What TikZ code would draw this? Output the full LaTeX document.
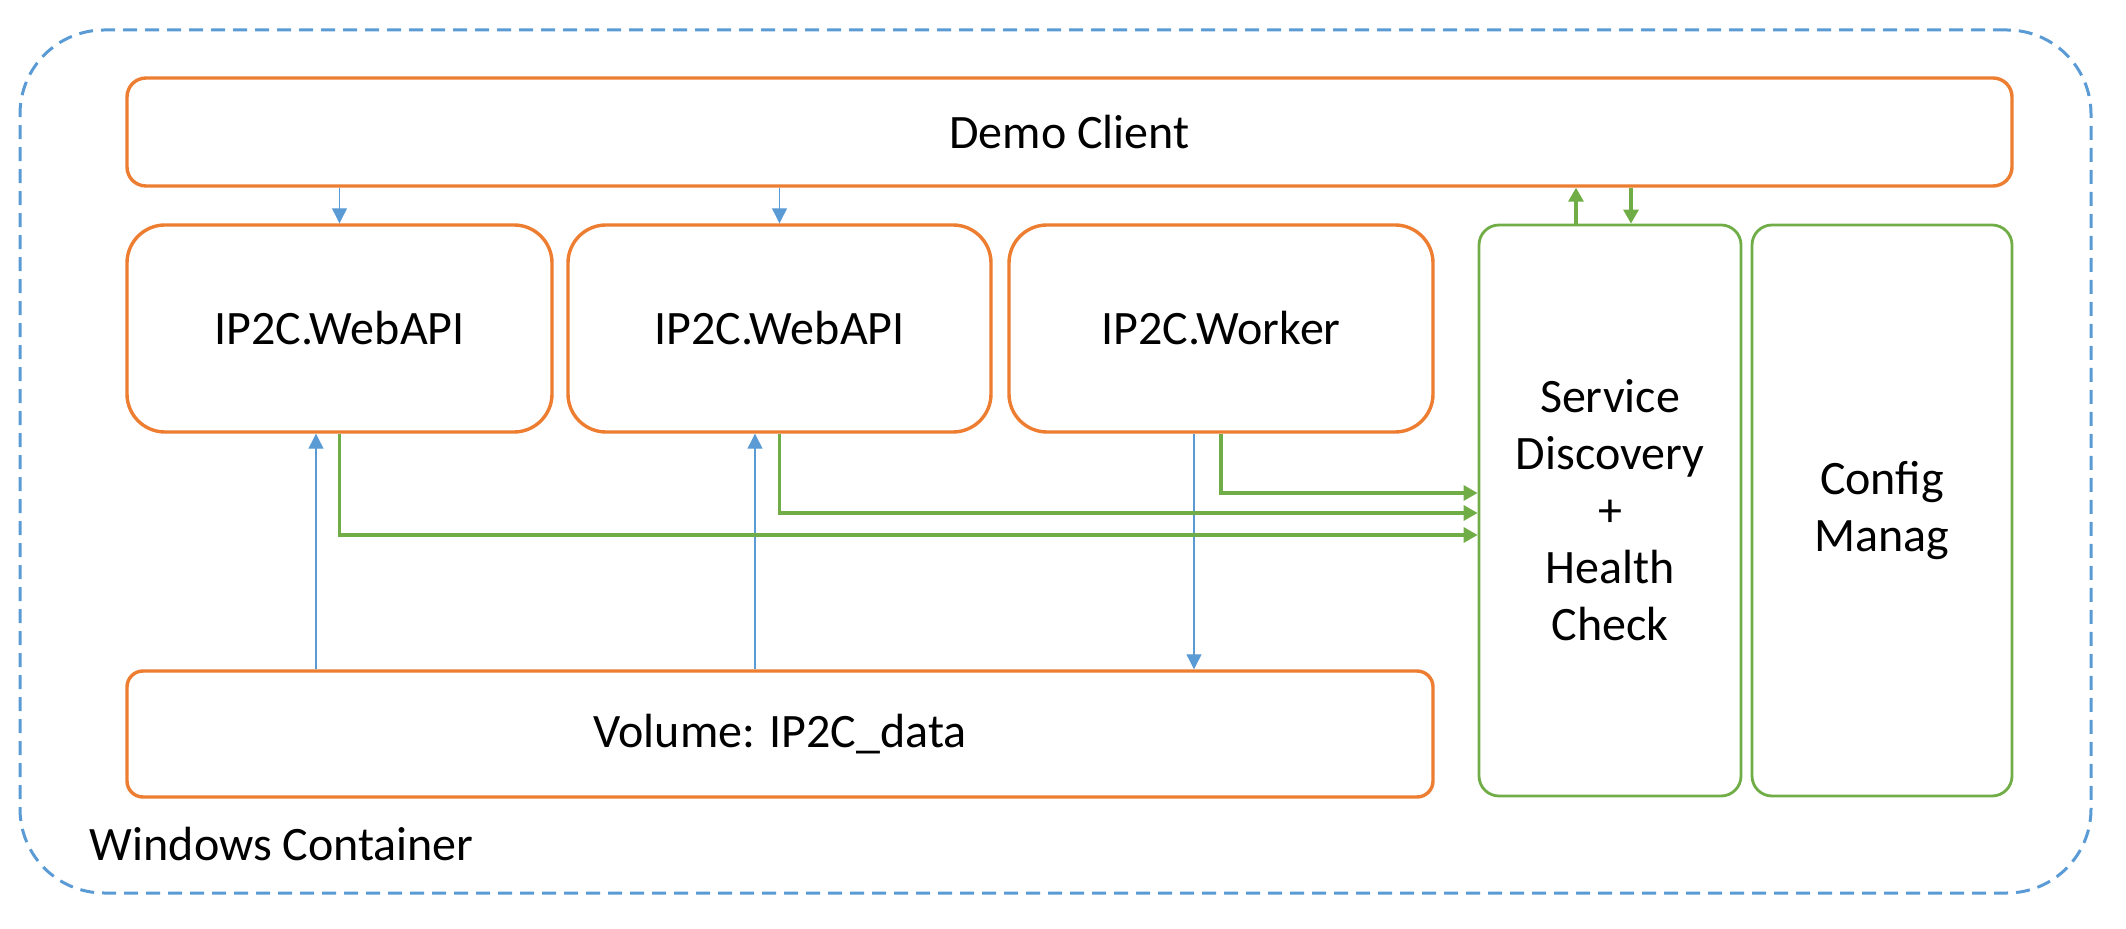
\documentclass[tikz,border=0pt]{standalone}
\usepackage{fontspec}
\setmainfont{Carlito}
\usetikzlibrary{arrows.meta}
\definecolor{orng}{HTML}{ED7D31}
\definecolor{blu}{HTML}{5B9BD5}
\definecolor{grn}{HTML}{70AD47}
\tikzset{
  lbl/.style={font=\fontsize{24}{28.5}\selectfont, text=black},
  obox/.style={draw=orng, line width=1.7pt, rectangle, inner sep=0pt, lbl, align=center},
  gbox/.style={draw=grn, line width=1.4pt, rectangle, inner sep=0pt, lbl, align=center, rounded corners=10pt},
  container/.style={draw=blu, line width=1.5pt, dash pattern=on 7pt off 4pt, rectangle, rounded corners=42pt, inner sep=0pt},
  bluearr/.style={draw=blu, line width=0.6pt, -{Triangle[width=7.5pt,length=7.5pt]}},
  greenarr/.style={draw=grn, line width=1.6pt, -{Triangle[width=7.5pt,length=7pt]}}
}
\begin{document}
\begin{tikzpicture}[x=0.5pt, y=-0.5pt]
\useasboundingbox (0,0) rectangle (2126,929);
\node[container, minimum width=1035.5pt, minimum height=431.5pt] (cont) at (1055.5,461.5) {};
\node[lbl, anchor=base west, inner sep=0pt] (contlbl) at (89.5,861) {Windows Container};

\node[obox, rounded corners=9.5pt, minimum width=942.5pt, minimum height=54pt] (demo) at (1069.5,132) {Demo Client};
\node[obox, rounded corners=19pt, minimum width=212.5pt, minimum height=103.5pt] (webapi1) at (339.5,328.5) {IP2C.WebAPI};
\node[obox, rounded corners=19pt, minimum width=211.5pt, minimum height=103.5pt] (webapi2) at (779.5,328.5) {IP2C.WebAPI};
\node[obox, rounded corners=19pt, minimum width=212pt, minimum height=103.5pt] (worker) at (1221,328.5) {IP2C.Worker};
\node[obox, rounded corners=8pt, minimum width=653pt, minimum height=63pt] (vol) at (780,734) {Volume: IP2C\_data};
\node[gbox, minimum width=131pt, minimum height=285.5pt] (sd) at (1610,510.5) {Service\\Discovery\\+\\Health\\Check};
\node[gbox, minimum width=130pt, minimum height=285.5pt] (cfg) at (1882,510.5) {Config\\Manag};

% blue arrows
\draw[bluearr] (demo.south -| webapi1.north) -- (webapi1.north);
\draw[bluearr] (demo.south -| webapi2.north) -- (webapi2.north);
\coordinate (w1b) at ([xshift=-11.75pt]webapi1.south);
\coordinate (w2b) at ([xshift=-12.25pt]webapi2.south);
\coordinate (wkb) at ([xshift=-13.5pt]worker.south);
\draw[bluearr] (w1b |- vol.north) -- (w1b);
\draw[bluearr] (w2b |- vol.north) -- (w2b);
\draw[bluearr] (wkb) -- (wkb |- vol.north);

% green arrows
\coordinate (sdu) at ([xshift=-17pt]sd.north);
\coordinate (sdd) at ([xshift=10.5pt]sd.north);
\draw[greenarr] (sdu) -- (sdu |- demo.south);
\draw[greenarr] (sdd |- demo.south) -- (sdd);
\draw[greenarr] (worker.south) |- ([yshift=8.75pt]sd.west);
\draw[greenarr] (webapi2.south) |- ([yshift=-1.25pt]sd.west);
\draw[greenarr] (webapi1.south) |- ([yshift=-12.25pt]sd.west);
\end{tikzpicture}
\end{document}
